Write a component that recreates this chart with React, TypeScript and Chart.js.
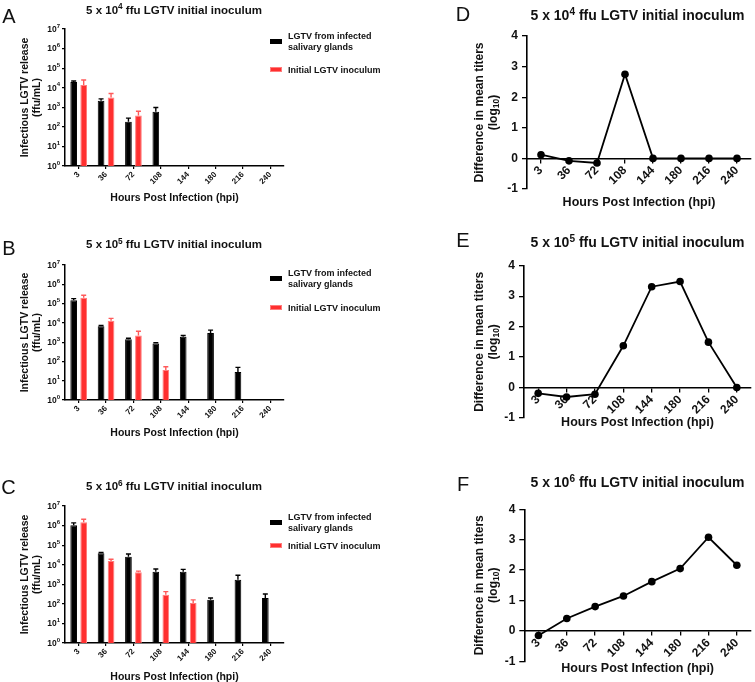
import React, { useEffect, useRef } from 'react';
import { Chart, registerables } from 'chart.js';

Chart.register(...registerables);

const FONT = "'Liberation Sans', Arial, Helvetica, sans-serif";
const INK = '#111111';
const RED = '#ff2f2f';
const RED_EDGE = '#ff7c7c';
const RED_ERR = '#ff5a5a';

// ---------- data ----------
const hours = ['3', '36', '72', '108', '144', '180', '216', '240'];

// Panel A: 5 x 10^4 ffu
const aSalivary = [1.95e4, 2.15e3, 180, 590, null, null, null, null];
const aSalivaryErr = [2.2e4, 2.7e3, 280, 980, null, null, null, null];
const aInoculum = [1.37e4, 3.2e3, 380, null, null, null, null, null];
const aInoculumErr = [2.5e4, 5.1e3, 630, null, null, null, null, null];

// Panel B: 5 x 10^5 ffu
const bSalivary = [1.5e5, 6.7e3, 1.4e3, 850, 1.9e3, 3.0e3, 28, null];
const bSalivaryErr = [1.8e5, 7.3e3, 1.6e3, 930, 2.2e3, 4.2e3, 49, null];
const bInoculum = [2.0e5, 1.3e4, 2.2e3, 36, null, null, null, null];
const bInoculumErr = [2.7e5, 1.7e4, 3.7e3, 53, null, null, null, null];

// Panel C: 5 x 10^6 ffu
const cSalivary = [1.05e6, 3.8e4, 2.55e4, 4.4e3, 4.4e3, 160, 1.7e3, 200];
const cSalivaryErr = [1.37e6, 4.2e4, 3.5e4, 6.0e3, 5.8e3, 200, 2.9e3, 320];
const cInoculum = [1.5e6, 1.55e4, 4.1e3, 290, 112, null, null, null];
const cInoculumErr = [2.1e6, 1.9e4, 4.7e3, 420, 160, null, null, null];

// Panels D-F: difference in mean titers (log10)
const dDiff = [0.12, -0.08, -0.15, 2.75, 0, 0, 0, 0];
const eDiff = [-0.19, -0.31, -0.22, 1.37, 3.31, 3.48, 1.49, 0];
const fDiff = [-0.15, 0.41, 0.8, 1.15, 1.62, 2.05, 3.08, 2.16];

const logTickExps = [0, 1, 2, 3, 4, 5, 6, 7];

// ---------- plugins ----------
const errorBarPlugin = {
  id: 'errorBars',
  afterDatasetsDraw(chart: any) {
    const { ctx } = chart;
    const yScale = chart.scales.y;
    chart.data.datasets.forEach((ds: any, di: number) => {
      const errs = ds.errorUpper;
      if (!errs) return;
      const meta = chart.getDatasetMeta(di);
      ctx.save();
      ctx.strokeStyle = ds.errorColor;
      ctx.lineWidth = 1.4;
      meta.data.forEach((el: any, i: number) => {
        const v = ds.data[i];
        const e = errs[i];
        if (v == null || e == null) return;
        const x = el.x;
        const y0 = el.y;
        const y1 = yScale.getPixelForValue(e);
        ctx.beginPath();
        ctx.moveTo(x, y0);
        ctx.lineTo(x, y1);
        ctx.moveTo(x - 2.5, y1);
        ctx.lineTo(x + 2.5, y1);
        ctx.stroke();
      });
      ctx.restore();
    });
  },
};

// Power-of-ten tick labels with a real superscript exponent
const logLabelPlugin = {
  id: 'logLabels',
  afterDraw(chart: any) {
    const { ctx } = chart;
    const s = chart.scales.y;
    const xRight = s.right - 3 - 2;
    ctx.save();
    ctx.fillStyle = INK;
    ctx.textBaseline = 'middle';
    ctx.textAlign = 'left';
    s.ticks.forEach((t: any) => {
      const exp = String(Math.round(Math.log10(t.value)));
      const y = s.getPixelForValue(t.value);
      ctx.font = `bold 6px ${FONT}`;
      const supW = ctx.measureText(exp).width;
      ctx.font = `bold 8.5px ${FONT}`;
      const baseW = ctx.measureText('10').width;
      ctx.fillText('10', xRight - supW - baseW, y + 0.5);
      ctx.font = `bold 6px ${FONT}`;
      ctx.fillText(exp, xRight - supW, y - 3);
    });
    ctx.restore();
  },
};

// Second line of the y title "(log10)" with a real subscript
const logSubTitlePlugin = {
  id: 'logSubTitle',
  afterDraw(chart: any) {
    const { ctx } = chart;
    const s = chart.scales.y;
    const lh = 12 * 1.1;
    const x = s.left + lh / 2 + lh;
    const cy = (s.top + s.bottom) / 2;
    ctx.save();
    ctx.fillStyle = INK;
    ctx.textBaseline = 'middle';
    ctx.textAlign = 'left';
    const big = `bold 12px ${FONT}`;
    const small = `bold 8.5px ${FONT}`;
    ctx.font = big;
    const w1 = ctx.measureText('(log').width;
    const w3 = ctx.measureText(')').width;
    ctx.font = small;
    const w2 = ctx.measureText('10').width;
    const total = w1 + w2 + w3;
    ctx.translate(x, cy);
    ctx.rotate(-Math.PI / 2);
    let px = -total / 2;
    ctx.font = big;
    ctx.fillText('(log', px, 0);
    px += w1;
    ctx.font = small;
    ctx.fillText('10', px, 3);
    px += w2;
    ctx.font = big;
    ctx.fillText(')', px, 0);
    ctx.restore();
  },
};

// ---------- configs ----------
function barConfig(sal: any[], salErr: any[], ino: any[], inoErr: any[], padTop: number, xTitleH: number): any {
  return {
    type: 'bar',
    data: {
      labels: hours,
      datasets: [
        {
          label: 'LGTV from infected salivary glands',
          data: sal,
          errorUpper: salErr,
          errorColor: '#000',
          backgroundColor: '#000',
          borderColor: '#000',
          borderWidth: 1,
          categoryPercentage: 0.73,
          barPercentage: 0.67,
        },
        {
          label: 'Initial LGTV inoculum',
          data: ino,
          errorUpper: inoErr,
          errorColor: RED_ERR,
          backgroundColor: RED,
          borderColor: RED_EDGE,
          borderWidth: 1,
          categoryPercentage: 0.73,
          barPercentage: 0.67,
        },
      ],
    },
    options: {
      responsive: false,
      animation: false,
      devicePixelRatio: 1,
      layout: { padding: { left: 19, right: 16, top: padTop, bottom: 0 } },
      plugins: { legend: { display: false }, tooltip: { enabled: false } },
      scales: {
        x: {
          offset: true,
          grid: {
            display: true,
            drawOnChartArea: false,
            drawTicks: true,
            tickLength: 3,
            color: '#000',
            tickColor: '#000',
            lineWidth: 1.2,
            offset: false,
          },
          border: { display: true, color: '#000', width: 1.5 },
          ticks: {
            color: INK,
            font: { family: FONT, size: 8, weight: 'bold' },
            maxRotation: 45,
            minRotation: 45,
            padding: 1,
            autoSkip: false,
          },
          title: {
            display: true,
            text: 'Hours Post Infection (hpi)',
            color: INK,
            font: { family: FONT, size: 10.5, weight: 'bold', lineHeight: 1.15 },
            padding: 0,
          },
          afterFit: (s: any) => {
            s.height = xTitleH;
          },
        },
        y: {
          type: 'logarithmic',
          min: 1,
          max: 1e7,
          afterBuildTicks: (s: any) => {
            s.ticks = logTickExps.map((e) => ({ value: Math.pow(10, e) }));
          },
          grid: {
            display: true,
            drawOnChartArea: false,
            drawTicks: true,
            tickLength: 3,
            color: '#000',
            tickColor: '#000',
            lineWidth: 1.2,
          },
          border: { display: true, color: '#000', width: 1.5 },
          ticks: {
            color: INK,
            font: { family: FONT, size: 8.5, weight: 'bold' },
            padding: 2,
            callback: () => '',
          },
          title: {
            display: true,
            text: ['Infectious LGTV release', '(ffu/mL)'],
            color: INK,
            font: { family: FONT, size: 10.5, weight: 'bold', lineHeight: 1.15 },
            padding: 0,
          },
          afterFit: (s: any) => {
            s.width = 46;
          },
        },
      },
    },
    plugins: [errorBarPlugin, logLabelPlugin],
  };
}

function lineConfig(values: number[], padLeft: number, yWidth: number, padTop: number, padBottom: number, xTitleH: number): any {
  return {
    type: 'line',
    data: {
      labels: hours,
      datasets: [
        {
          data: values,
          borderColor: '#000',
          backgroundColor: '#000',
          borderWidth: 1.8,
          pointRadius: 3.8,
          pointBackgroundColor: '#000',
          pointBorderColor: '#000',
          pointBorderWidth: 0,
          tension: 0,
          clip: false,
        },
      ],
    },
    options: {
      responsive: false,
      animation: false,
      devicePixelRatio: 1,
      layout: { padding: { left: padLeft, right: 3, top: padTop, bottom: padBottom } },
      plugins: { legend: { display: false }, tooltip: { enabled: false } },
      scales: {
        x: {
          position: { y: 0 },
          offset: true,
          grid: {
            display: true,
            drawOnChartArea: false,
            drawTicks: true,
            tickLength: 4,
            color: '#000',
            tickColor: '#000',
            lineWidth: 1.3,
            offset: false,
          },
          border: { display: true, color: '#000', width: 1.6 },
          ticks: {
            color: INK,
            font: { family: FONT, size: 12, weight: 'bold' },
            maxRotation: 45,
            minRotation: 45,
            padding: 1,
            autoSkip: false,
          },
          title: {
            display: true,
            text: 'Hours Post Infection (hpi)',
            color: INK,
            font: { family: FONT, size: 12.5, weight: 'bold', lineHeight: 1.15 },
            padding: 0,
          },
          afterFit: (s: any) => {
            s.height = xTitleH;
          },
        },
        y: {
          min: -1,
          max: 4,
          grid: {
            display: true,
            drawOnChartArea: false,
            drawTicks: true,
            tickLength: 5,
            color: '#000',
            tickColor: '#000',
            lineWidth: 1.3,
          },
          border: { display: true, color: '#000', width: 1.6 },
          ticks: {
            stepSize: 1,
            color: INK,
            font: { family: FONT, size: 12, weight: 'bold' },
            padding: 4,
          },
          title: {
            display: true,
            text: 'Difference in mean titers',
            color: INK,
            font: { family: FONT, size: 12, weight: 'bold', lineHeight: 1.1 },
            padding: 0,
          },
          afterFit: (s: any) => {
            s.width = yWidth;
          },
        },
      },
    },
    plugins: [logSubTitlePlugin],
  };
}

// ---------- components ----------
function ChartCanvas({ left, top, width, height, make }: any) {
  const ref = useRef<HTMLCanvasElement | null>(null);
  useEffect(() => {
    if (!ref.current) return;
    const chart = new Chart(ref.current, make());
    return () => chart.destroy();
  }, []);
  return (
    <canvas
      ref={ref}
      width={width}
      height={height}
      style={{ position: 'absolute', left, top, width, height, display: 'block', zIndex: 1 }}
    />
  );
}

function Txt({ x, y, size, weight = 'bold', align = 'center', children }: any) {
  const tx = align === 'center' ? '-50%' : align === 'right' ? '-100%' : '0';
  return (
    <div
      style={{
        position: 'absolute',
        left: x,
        top: y,
        transform: `translate(${tx}, -50%)`,
        fontSize: size,
        fontWeight: weight,
        lineHeight: 1,
        whiteSpace: 'nowrap',
        zIndex: 2,
      }}
    >
      {children}
    </div>
  );
}

function Sup({ children }: any) {
  return (
    <span style={{ fontSize: '0.72em', position: 'relative', top: '-0.5em', lineHeight: 0 }}>{children}</span>
  );
}

function Title({ x, y, size, exp }: any) {
  return (
    <Txt x={x} y={y} size={size}>
      5 x 10<Sup>{exp}</Sup> ffu LGTV initial inoculum
    </Txt>
  );
}

function Legend({ x, y1, yRed }: any) {
  return (
    <>
      <div style={{ position: 'absolute', left: x, top: y1 + 5.7 - 2.5, width: 12, height: 5, background: '#000', zIndex: 2 }} />
      <Txt x={x + 18} y={y1} size={9} align="left">LGTV from infected</Txt>
      <Txt x={x + 18} y={y1 + 11.3} size={9} align="left">salivary glands</Txt>
      <div
        style={{
          position: 'absolute',
          left: x,
          top: yRed - 2.5,
          width: 10,
          height: 3,
          background: RED,
          border: `1px solid ${RED_EDGE}`,
          zIndex: 2,
        }}
      />
      <Txt x={x + 18} y={yRed} size={9} align="left">Initial LGTV inoculum</Txt>
    </>
  );
}

export default function App() {
  return (
    <div
      style={{
        position: 'absolute',
        left: 0,
        top: 0,
        width: 755,
        height: 682,
        background: '#fff',
        overflow: 'hidden',
        fontFamily: FONT,
        color: INK,
      }}
    >
      {/* Left column: bar charts */}
      <ChartCanvas left={0} top={0} width={300} height={204}
        make={() => barConfig(aSalivary, aSalivaryErr, aInoculum, aInoculumErr, 29, 38)} />
      <ChartCanvas left={0} top={230} width={300} height={209}
        make={() => barConfig(bSalivary, bSalivaryErr, bInoculum, bInoculumErr, 35, 39)} />
      <ChartCanvas left={0} top={470} width={300} height={213}
        make={() => barConfig(cSalivary, cSalivaryErr, cInoculum, cInoculumErr, 36, 40)} />

      {/* Right column: difference line charts */}
      <ChartCanvas left={470} top={20} width={285} height={194}
        make={() => lineConfig(dDiff, 3.4, 53.6, 16, 25, 51)} />
      <ChartCanvas left={470} top={250} width={285} height={193}
        make={() => lineConfig(eDiff, 3.4, 50.6, 15.7, 25, 42.2)} />
      <ChartCanvas left={470} top={490} width={285} height={192}
        make={() => lineConfig(fDiff, 3.4, 50.9, 19.3, 20.7, 44.5)} />

      {/* Panel letters */}
      <Txt x={9} y={15.5} size={20} weight="normal">A</Txt>
      <Txt x={9} y={248.3} size={20} weight="normal">B</Txt>
      <Txt x={8.5} y={486.5} size={20} weight="normal">C</Txt>
      <Txt x={463} y={14} size={20} weight="normal">D</Txt>
      <Txt x={463} y={240} size={20} weight="normal">E</Txt>
      <Txt x={463} y={484} size={20} weight="normal">F</Txt>

      {/* Titles */}
      <Title x={174} y={10.5} size={11.5} exp="4" />
      <Title x={174} y={245.3} size={11.5} exp="5" />
      <Title x={174} y={487.2} size={11.5} exp="6" />
      <Title x={637.5} y={14.7} size={14} exp="4" />
      <Title x={637.5} y={241.7} size={14} exp="5" />
      <Title x={637.5} y={481.8} size={14} exp="6" />

      {/* Legends */}
      <Legend x={270} y1={36} yRed={69.7} />
      <Legend x={270} y1={273} yRed={307.7} />
      <Legend x={270} y1={516.7} yRed={545.8} />
    </div>
  );
}
